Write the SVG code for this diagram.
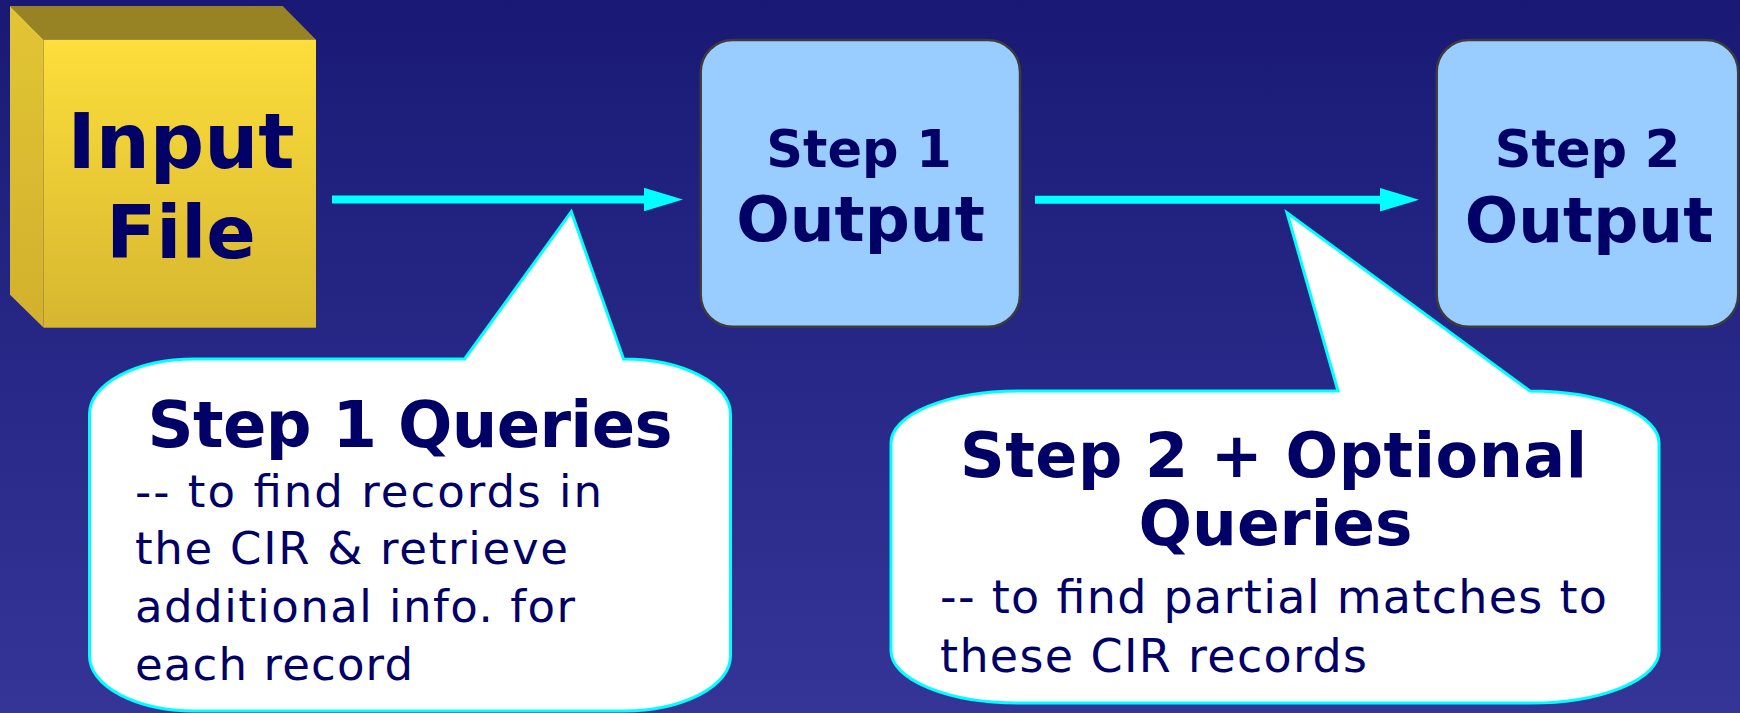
<svg xmlns="http://www.w3.org/2000/svg" width="1740" height="713" viewBox="0 0 1740 713">
  <defs>
    <linearGradient id="bg" x1="0" y1="0" x2="0" y2="1">
      <stop offset="0" stop-color="#191975"/>
      <stop offset="1" stop-color="#353598"/>
    </linearGradient>
    <linearGradient id="front" x1="0" y1="0" x2="0" y2="1">
      <stop offset="0" stop-color="#FDDE3B"/>
      <stop offset="1" stop-color="#D6B62F"/>
    </linearGradient>
    <linearGradient id="side" x1="0" y1="0" x2="0" y2="1">
      <stop offset="0" stop-color="#E2C535"/>
      <stop offset="1" stop-color="#D2B02C"/>
    </linearGradient>
    <marker id="head" markerUnits="userSpaceOnUse" markerWidth="40" markerHeight="24" refX="6" refY="11.7" orient="auto">
      <path d="M0,0 L39,11.7 L0,23.4 Z" fill="#00FFFF"/>
    </marker>
    <style>
      .t { font-family: "DejaVu Sans", Verdana, sans-serif; fill: #000066; }
      .b { font-weight: bold; }
      .box { fill: #99CCFF; stroke: #3C3C3C; stroke-width: 2.5; }
      .callout { fill: #FFFFFF; stroke: #00FFFF; stroke-width: 3; stroke-linejoin: miter; }
      .conn { stroke: #00FFFF; stroke-width: 8; fill: none; marker-end: url(#head); }
    </style>
  </defs>

  <rect x="0" y="0" width="1740" height="713" fill="url(#bg)"/>

  <g id="node-input">
    <polygon points="10,6 282.7,6 316,39.7 43.7,39.7" fill="#978323"/>
    <polygon points="10,6 43.7,39.7 43.7,327.7 10,294.7" fill="url(#side)"/>
    <rect x="43.7" y="39.7" width="272.3" height="288" fill="url(#front)"/>
    <text class="t b" x="181" y="168" font-size="76" text-anchor="middle">Input</text>
    <text class="t b" x="181" y="257.7" font-size="73" text-anchor="middle">File</text>
  </g>

  <g id="node-step1">
    <rect class="box" x="700.7" y="40" width="319.3" height="286.7" rx="32" ry="32"/>
    <text class="t b" x="859" y="166.7" font-size="51" text-anchor="middle">Step 1</text>
    <text class="t b" x="860.5" y="240.7" font-size="63" text-anchor="middle">Output</text>
  </g>

  <g id="node-step2">
    <rect class="box" x="1436.7" y="40" width="301.5" height="286.7" rx="32" ry="32"/>
    <text class="t b" x="1587.5" y="166.7" font-size="51" text-anchor="middle">Step 2</text>
    <text class="t b" x="1589" y="241.7" font-size="63" text-anchor="middle">Output</text>
  </g>

  <g id="connectors">
    <line class="conn" x1="332" y1="199.5" x2="650" y2="199.5"/>
    <line class="conn" x1="1035" y1="199.7" x2="1386" y2="199.7"/>
  </g>

  <g id="node-callout1">
    <path class="callout" d="M194.5,359 L464.6,359 L571.3,211.7 L623.5,359 A107,55 0 0 1 730.5,414 L730.5,656 A107,55 0 0 1 623.5,711 L194.5,711 A105,55 0 0 1 89.5,656 L89.5,414 A105,55 0 0 1 194.5,359 Z"/>
    <text class="t b" x="410" y="446.7" font-size="64" text-anchor="middle" textLength="525">Step 1 Queries</text>
    <text class="t" x="135" y="506.7" font-size="45" textLength="467">-- to find records in</text>
    <text class="t" x="135" y="564" font-size="45" textLength="433">the CIR &amp; retrieve</text>
    <text class="t" x="135" y="621.7" font-size="45" textLength="440">additional info. for</text>
    <text class="t" x="135" y="680" font-size="45" textLength="278">each record</text>
  </g>

  <g id="node-callout2">
    <path class="callout" d="M1019,391 L1338,391 L1287,212.7 L1530,391 A129,52 0 0 1 1659,443 L1659,651 A129,52 0 0 1 1530,703 L1019,703 A128,52 0 0 1 891,651 L891,443 A128,52 0 0 1 1019,391 Z"/>
    <text class="t b" x="1273.5" y="476.7" font-size="62" text-anchor="middle" textLength="627">Step 2 + Optional</text>
    <text class="t b" x="1275.5" y="545" font-size="63" text-anchor="middle">Queries</text>
    <text class="t" x="940" y="613.3" font-size="46" textLength="667">-- to find partial matches to</text>
    <text class="t" x="940" y="671.7" font-size="46" textLength="427">these CIR records</text>
  </g>
</svg>
